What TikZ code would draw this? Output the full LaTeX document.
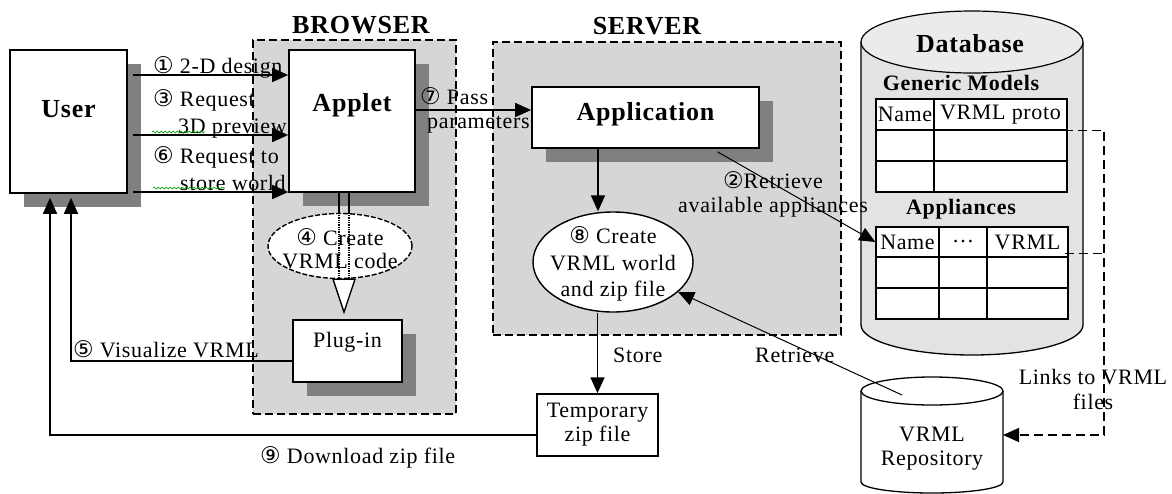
\documentclass[tikz,border=0pt]{standalone}
\usepackage{fontspec}
\setmainfont[LetterSpace=3]{Liberation Serif}
\newfontfamily\circfont{DejaVu Sans}
\usepackage{tikz}
\usetikzlibrary{shadows}
\usetikzlibrary{positioning}
\usetikzlibrary{arrows.meta,shapes.geometric}
\usetikzlibrary{decorations.pathmorphing}
\usetikzlibrary{calc}

\newcommand{\cn}[1]{{\circfont\fontsize{23}{24}\selectfont #1}}

\tikzset{
  region/.style={draw, line width=1.2pt, dash pattern=on 8pt off 4pt, fill=black!16},
  box/.style={draw, fill=white, line width=1.6pt, inner sep=0pt,
    drop shadow={shadow xshift=14pt, shadow yshift=-14pt, fill=black!50, opacity=1}},
  flat/.style={draw, fill=white, line width=1.5pt, inner sep=0pt},
  cell/.style={draw, fill=white, line width=1.3pt, inner sep=0pt},
  bub/.style={ellipse, draw, fill=white, line width=1.4pt, inner sep=0pt},
  arr/.style={line width=1.6pt, -{Triangle[length=16pt,width=14pt]}},
  link/.style={line width=1.4pt, dash pattern=on 9pt off 5pt},
  btxt/.style={font=\fontsize{26}{30}\selectfont\bfseries},
  htxt/.style={font=\fontsize{22}{26}\selectfont\bfseries},
  lbl/.style={inner sep=0pt},
  squig/.style={green!60!black, line width=0.7pt, decorate,
    decoration={snake, amplitude=1pt, segment length=4pt}}
}

\begin{document}
\begin{tikzpicture}[x=1pt, y=-1pt, font=\fontsize{22}{24}\selectfont]
  \useasboundingbox (0,0) rectangle (1172,493);

  %regions
  \node[region, minimum width=203pt, minimum height=374pt] (browser) at (354.5,227) {};
  \node[region, minimum width=348pt, minimum height=293pt] (server) at (667,188.5) {};
  \node[btxt, anchor=base] (browser-lbl) at (361,33) {BROWSER};
  \node[btxt, anchor=base] (server-lbl) at (647,34) {SERVER};

  %boxes
  \node[box, btxt, minimum width=117pt, minimum height=143pt, text depth=26pt] (user) at (68.5,121.5) {User};
  \node[box, btxt, minimum width=126pt, minimum height=142pt, text depth=37pt] (applet) at (352,121) {Applet};
  \node[box, minimum width=109pt, minimum height=62pt, text depth=23pt] (plugin) at (347.5,351) {Plug-in};
  \node[box, btxt, minimum width=227pt, minimum height=61pt, text depth=12pt] (app) at (645.5,117.5) {Application};
  \node[flat, minimum width=121pt, minimum height=62pt, align=center] (temp) at (597.5,425) {Temporary\\zip file};

  %bubbles
  \node[bub, dash pattern=on 5pt off 2pt, minimum width=144pt, minimum height=65pt] (cr4) at (340,246) {};
  \node[bub, minimum width=160pt, minimum height=100pt] (cr8) at (613,262) {};
  \node[lbl, align=center, font=\fontsize{22}{26.5}\selectfont] (cr8-txt) at (613,264) {\cn{⑧} Create\\VRML world\\and zip file};

  %database
  \draw[line width=1.3pt, fill=black!11] (861,42) -- (861,325)
    arc[start angle=180, end angle=0, x radius=111, y radius=30] -- (1083,42);
  \draw[line width=1.2pt, fill=black!8] (972,42) ellipse[x radius=111, y radius=31];
  \node[btxt, anchor=base] (db) at (970,52) {Database};
  \node[htxt, anchor=base] (gm-lbl) at (961,90) {Generic Models};
  \node[htxt, anchor=base] (ap-lbl) at (961,214) {Appliances};

  \foreach \c/\xa/\xb/\txt in {1/876/934/Name, 2/934/1067/VRML proto}{
    \foreach \r/\ya/\yb in {1/99/130, 2/130/161, 3/161/192}{
      \node[cell, minimum width={(\xb-\xa)*1pt}, minimum height={(\yb-\ya)*1pt}]
        (gm-\r-\c) at ({(\xa+\xb)/2},{(\ya+\yb)/2}) {\ifnum\r=1 \txt\fi};
    }
  }
  \foreach \c/\xa/\xb/\txt in {1/876/939/Name, 2/939/987/\dots, 3/987/1068/VRML}{
    \foreach \r/\ya/\yb in {1/227/257, 2/257/288, 3/288/319}{
      \node[cell, minimum width={(\xb-\xa)*1pt}, minimum height={(\yb-\ya)*1pt}]
        (ap-\r-\c) at ({(\xa+\xb)/2},{(\ya+\yb)/2}) {\ifnum\r=1 \txt\fi};
    }
  }

  %repository
  \draw[line width=1.3pt, fill=white] (861,391) -- (861,482)
    arc[start angle=180, end angle=0, x radius=71, y radius=11] -- (1003,391);
  \draw[line width=1.3pt, fill=white] (932,391) ellipse[x radius=71, y radius=14];
  \node[lbl, align=center] (repo) at (932,449) {VRML\\Repository};
  \coordinate (repo-in) at (902,395);
  \coordinate (repo-r) at (1003,435);

  %user to applet
  \coordinate (u-out) at ([xshift=5pt]user.east);
  \foreach \y in {75,135,192}
    \draw[arr] (u-out |- 0,\y) -- (applet.west |- 0,\y);
  \node[lbl, anchor=base west] (l1) at (153,73) {\cn{①} 2-D design};
  \node[lbl, anchor=west, align=left, font=\fontsize{22}{27}\selectfont] (l3) at (153,114)
    {\cn{③} Request\\\hspace*{25pt}3D preview};
  \node[lbl, anchor=west, align=left, font=\fontsize{22}{27}\selectfont] (l6) at (153,169)
    {\cn{⑥} Request to\\\hspace*{27pt}store world};
  \draw[squig] (152,132) -- (205,132);
  \draw[squig] (153,188) -- (225,188);

  %applet to plug-in
  \coordinate (dl) at ([xshift=-13pt]applet.south);
  \coordinate (dr) at ([xshift=-3pt]applet.south);
  \coordinate (tri-tip) at ([xshift=-3.5pt,yshift=7pt]plugin.north);
  \coordinate (tri-top) at (tri-tip |- cr4.south);
  \draw[line width=1.5pt] (dl) -- (dl |- cr4.north) (dr) -- (dr |- cr4.north);
  \draw[line width=1.3pt, densely dotted] (dl |- cr4.north) -- (dl |- cr4.south)
    (dr |- cr4.north) -- (dr |- cr4.south);
  \draw[line width=1.4pt, fill=white] ([xshift=-11pt]tri-top) -- ([xshift=11pt]tri-top) -- (tri-tip) -- cycle;
  \node[lbl, align=center, font=\fontsize{22}{23}\selectfont] (cr4-txt) at (340,249) {\cn{④} Create\\VRML code};

  %back to user
  \draw[arr] ([yshift=-10pt]plugin.west) -| ([xshift=2.5pt,yshift=-4pt]user.south);
  \node[lbl, anchor=base west] (l5) at (73,357) {\cn{⑤} Visualize VRML};
  \draw[arr] ([yshift=-10pt]temp.west) -| ([xshift=-18.5pt,yshift=-4pt]user.south);
  \node[lbl, anchor=base west] (l9) at (260,463) {\cn{⑨} Download zip file};

  %applet to application
  \coordinate (ap-out) at ([yshift=11pt]applet.east);
  \draw[arr] (ap-out) -- (ap-out -| app.west);
  \node[lbl, anchor=west, align=left] (l7) at (420,110.5) {\cn{⑦} Pass\\\hspace*{7pt}parameters};

  %server side
  \coordinate (app-out) at ([xshift=-47.5pt]app.south);
  \draw[arr] (app-out) -- (app-out |- cr8.north);
  \draw[arr] (temp.north |- cr8.south) -- (temp.north);
  \node[lbl, anchor=base west] (l-store) at (613,362) {Store};
  \coordinate (app-ret) at ([xshift=72pt,yshift=-3pt]app.south);
  \node[lbl, align=center] (l2) at (773,194.5) {\cn{②}Retrieve\\available appliances};
  \draw[arr, line width=1pt] (app-ret) -- (ap-1-1.west);
  \node[lbl, anchor=base west] (l-ret) at (755,362) {Retrieve};
  \draw[arr, line width=1pt] (repo-in) -- (cr8);

  %links
  \coordinate (lk1) at ([xshift=-4pt]gm-1-2.south east);
  \coordinate (lk2) at ([xshift=-4pt,yshift=4pt]ap-1-3.south east);
  \coordinate (lk-c) at (1104,435);
  \draw[link, -{Triangle[length=16pt,width=14pt]}] (lk1) -| (lk-c) -- (repo-r);
  \draw[link] (lk2) -- (lk2 -| lk-c);
  \node[lbl, align=center, font=\fontsize{22}{25}\selectfont] (l-links) at (1093,389) {Links to VRML\\files};
\end{tikzpicture}
\end{document}
